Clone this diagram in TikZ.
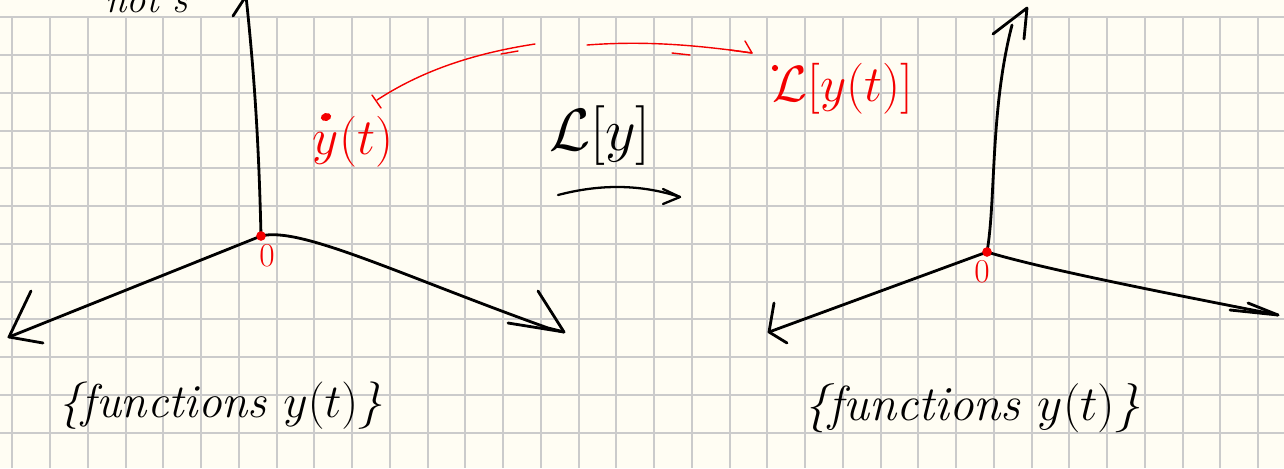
\RequirePackage{fix-cm}
\documentclass[tikz,border=0pt]{standalone}
\usetikzlibrary{shapes.geometric}
\definecolor{paper}{RGB}{255,253,243}
\definecolor{gridc}{RGB}{203,203,203}
\definecolor{ink}{RGB}{0,0,0}
\definecolor{redink}{RGB}{244,0,0}
\begin{document}
\begin{tikzpicture}[x=0.02cm,y=-0.02cm,
  gridline/.style={draw=gridc,line width=1.1pt},
  axis/.style={draw=ink,line width=1.6pt,line cap=round,line join=round},
  thinblack/.style={draw=ink,line width=1.3pt,line cap=round,line join=round},
  redline/.style={draw=redink,line width=0.8pt,line cap=round,line join=round},
  reddot/.style={fill=redink,draw=none,circle,inner sep=0pt,minimum size=5.5pt},
  handtext/.style={inner sep=0pt,text=ink,font=\fontsize{27}{32}\selectfont\itshape},
  redtext/.style={inner sep=0pt,text=redink,font=\fontsize{29}{33}\selectfont},
  zerotext/.style={inner sep=0pt,text=redink,font=\fontsize{19}{22}\selectfont}]
\useasboundingbox (0,0) rectangle (1284,468);
\fill[paper] (0,0) rectangle (1284,468);
\foreach \k in {0,...,33} \draw[gridline] ({12.3+37.75*\k},17.3) -- ({12.3+37.75*\k},468);
\foreach \k in {0,...,11} \draw[gridline] (0,{17.3+37.75*\k}) -- (1284,{17.3+37.75*\k});

% ---------- left system ----------
\coordinate (O1) at (261,236);
\coordinate (V1top) at (246,-4);
\coordinate (V1a) at (233,16);
\coordinate (L1tip) at (9,337);
\coordinate (L1a) at (31,291);
\coordinate (L1b) at (43,343);
\coordinate (R1end) at (548,328);
\coordinate (R1tip) at (564,332);
\coordinate (R1a) at (538,291);
\coordinate (R1b) at (508,323);
\draw[axis] (O1) .. controls (259,150) and (255,80) .. (V1top);
\draw[axis] (V1a) -- (V1top);
\draw[axis] (O1) -- (L1tip);
\draw[axis] (L1a) -- (L1tip) -- (L1b);
\draw[axis] (O1) .. controls (300,226) and (400,275) .. (R1end) -- (R1tip);
\draw[axis] (R1a) -- (R1tip) -- (R1b);
\node[reddot] (d1) at (O1) {};
\node[zerotext] (z1) at (267,256) {0};
\node[handtext,anchor=base east,font=\fontsize{22}{26}\selectfont\itshape] (top) at (188,12) {not s};
\node[handtext,anchor=base] (lbl1) at (220,417) {\{functions $y(t)$\}};

% ---------- right system ----------
\coordinate (O2) at (987,252);
\coordinate (V2end) at (1012,25);
\coordinate (V2tip) at (1027,8);
\coordinate (V2a) at (993,34);
\coordinate (V2b) at (1024,39);
\coordinate (L2tip) at (769,332);
\coordinate (L2a) at (774,303);
\coordinate (L2b) at (787,343);
\coordinate (R2tip) at (1278,315);
\coordinate (R2a) at (1248,303);
\coordinate (R2b) at (1230,310);
\draw[axis] (O2) .. controls (996,200) and (990,110) .. (V2end);
\draw[axis] (V2a) -- (V2tip) -- (V2b);
\draw[axis] (O2) -- (L2tip);
\draw[axis] (L2a) -- (L2tip) -- (L2b);
\draw[axis] (O2) .. controls (1040,268) and (1150,290) .. (R2tip);
\draw[axis] (R2a) -- (R2tip) -- (R2b);
\node[reddot] (d2) at (O2) {};
\node[zerotext] (z2) at (982,272) {0};
\node[handtext,anchor=base,font=\fontsize{28}{32}\selectfont\itshape] (lbl2) at (972,420) {\{functions $y(t)$\}};

% ---------- middle ----------
\node[handtext,anchor=base,font=\fontsize{34}{38}\selectfont] (Ly) at (600,150) {$\mathcal{L}[y]$};
\coordinate (MAs) at (558,195);
\coordinate (MAt) at (680,197);
\coordinate (MAa) at (663,189);
\coordinate (MAb) at (663,204);
\draw[thinblack] (MAs) .. controls (600,184) and (640,184) .. (MAt);
\draw[thinblack] (MAa) -- (MAt) -- (MAb);

% ---------- red labels and arrows ----------
\node[redtext,anchor=base] (ydot) at (353,154) {$y(t)$};
\node[reddot,ellipse,minimum width=6pt,minimum height=4.5pt,rotate=15] (ydotmark) at (326,117) {};
\node[redtext,anchor=base] (Lyt) at (843,101) {$\mathcal{L}[y(t)]$};
\node[reddot,minimum size=3.5pt] (Ldot) at (775,68) {};

\coordinate (RLs) at (535,44);
\coordinate (RLe) at (377,100);
\coordinate (RLt1) at (372,95);
\coordinate (RLt2) at (381,108);
\coordinate (RLh1) at (518,51);
\coordinate (RLh2) at (501,54);
\draw[redline] (RLs) .. controls (470,54) and (420,72) .. (RLe);
\draw[redline] (RLt1) -- (RLt2);
\draw[redline] (RLh1) -- (RLh2);

\coordinate (RRs) at (587,45);
\coordinate (RRt) at (752,53);
\coordinate (RRa) at (745,41);
\coordinate (RRb) at (730,50);
\coordinate (RRd1) at (672,53);
\coordinate (RRd2) at (690,55);
\draw[redline] (RRs) .. controls (640,41) and (690,44) .. (RRt);
\draw[redline] (RRa) -- (RRt) -- (RRb);
\draw[redline] (RRd1) -- (RRd2);
\end{tikzpicture}
\end{document}
